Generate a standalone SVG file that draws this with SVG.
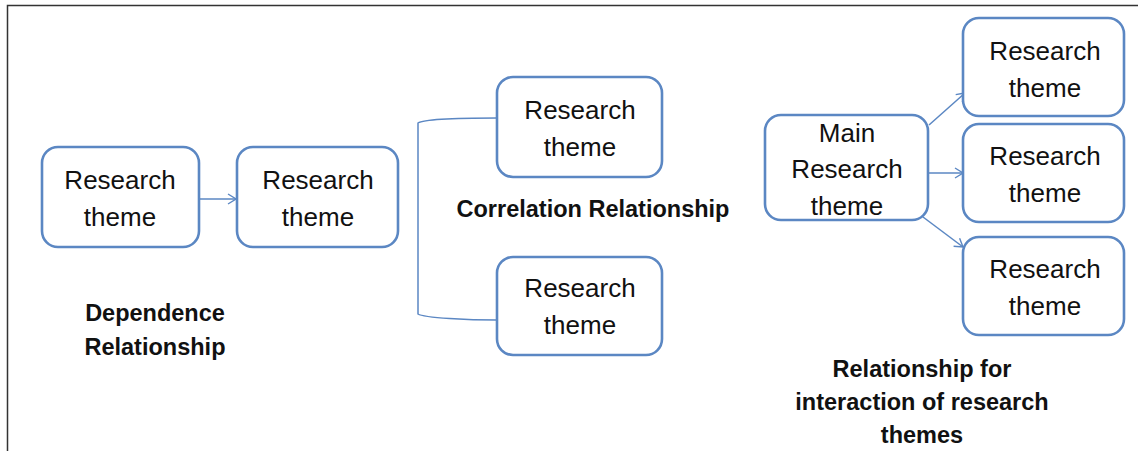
<svg xmlns="http://www.w3.org/2000/svg" width="1138" height="451" viewBox="0 0 1138 451">
  <defs>
    <marker id="arrow" viewBox="0 0 10 12" refX="9" refY="6" markerWidth="10" markerHeight="12" markerUnits="userSpaceOnUse" orient="auto">
      <path d="M1,1 L9,6 L1,11" fill="none" stroke="#5b87c3" stroke-width="1.4"/>
    </marker>
  </defs>
  <style>
    .box { fill: #ffffff; stroke: #5b87c3; stroke-width: 2.6; }
    .node-text { font-family: "Liberation Sans", Arial, sans-serif; font-size: 26px; fill: #111111; text-anchor: middle; }
    .caption { font-family: "Liberation Sans", Arial, sans-serif; font-size: 23.5px; font-weight: bold; fill: #111111; text-anchor: middle; }
    .link { fill: none; stroke: #5b87c3; stroke-width: 1.5; }
    .frame { fill: none; stroke: #333333; stroke-width: 1.5; }
  </style>

  <rect width="1138" height="451" fill="#ffffff"/>
  <!-- page frame: top and left edges -->
  <path class="frame" d="M7.5,451 L7.5,5.5 L1138,5.5"/>

  <!-- connectors -->
  <g id="connectors">
    <line class="link" x1="200" y1="199" x2="236" y2="199" marker-end="url(#arrow)"/>
    <path class="link" d="M497,118 C470,118 424,119 418,123 L418,314 C424,318 470,320 497,320"/>
    <line class="link" x1="929" y1="125" x2="965" y2="93" marker-end="url(#arrow)"/>
    <line class="link" x1="929" y1="173" x2="963" y2="173" marker-end="url(#arrow)"/>
    <line class="link" x1="923" y1="217" x2="963" y2="247" marker-end="url(#arrow)"/>
  </g>

  <!-- dependence relationship -->
  <g id="dep-a">
    <rect class="box" x="42" y="147" width="157" height="100" rx="16"/>
    <text class="node-text" x="120" y="189">Research</text>
    <text class="node-text" x="120" y="226">theme</text>
  </g>
  <g id="dep-b">
    <rect class="box" x="237" y="147" width="161" height="100" rx="16"/>
    <text class="node-text" x="318" y="189">Research</text>
    <text class="node-text" x="318" y="226">theme</text>
  </g>
  <g id="dep-caption">
    <text class="caption" x="155" y="321">Dependence</text>
    <text class="caption" x="155" y="355">Relationship</text>
  </g>

  <!-- correlation relationship -->
  <g id="cor-a">
    <rect class="box" x="497" y="77" width="165" height="100" rx="16"/>
    <text class="node-text" x="580" y="119">Research</text>
    <text class="node-text" x="580" y="156">theme</text>
  </g>
  <g id="cor-b">
    <rect class="box" x="497" y="257" width="165" height="98" rx="16"/>
    <text class="node-text" x="580" y="297">Research</text>
    <text class="node-text" x="580" y="334">theme</text>
  </g>
  <g id="cor-caption">
    <text class="caption" x="593" y="217">Correlation Relationship</text>
  </g>

  <!-- interaction of research themes -->
  <g id="main-theme">
    <rect class="box" x="765" y="115" width="163" height="105" rx="16"/>
    <text class="node-text" x="847" y="142">Main</text>
    <text class="node-text" x="847" y="178">Research</text>
    <text class="node-text" x="847" y="215">theme</text>
  </g>
  <g id="theme-1">
    <rect class="box" x="963" y="18" width="161" height="98" rx="16"/>
    <text class="node-text" x="1045" y="60">Research</text>
    <text class="node-text" x="1045" y="97">theme</text>
  </g>
  <g id="theme-2">
    <rect class="box" x="963" y="124" width="161" height="98" rx="16"/>
    <text class="node-text" x="1045" y="165">Research</text>
    <text class="node-text" x="1045" y="202">theme</text>
  </g>
  <g id="theme-3">
    <rect class="box" x="963" y="237" width="161" height="98" rx="16"/>
    <text class="node-text" x="1045" y="278">Research</text>
    <text class="node-text" x="1045" y="315">theme</text>
  </g>
  <g id="int-caption">
    <text class="caption" x="922" y="377">Relationship for</text>
    <text class="caption" x="922" y="410">interaction of research</text>
    <text class="caption" x="922" y="443">themes</text>
  </g>
</svg>
